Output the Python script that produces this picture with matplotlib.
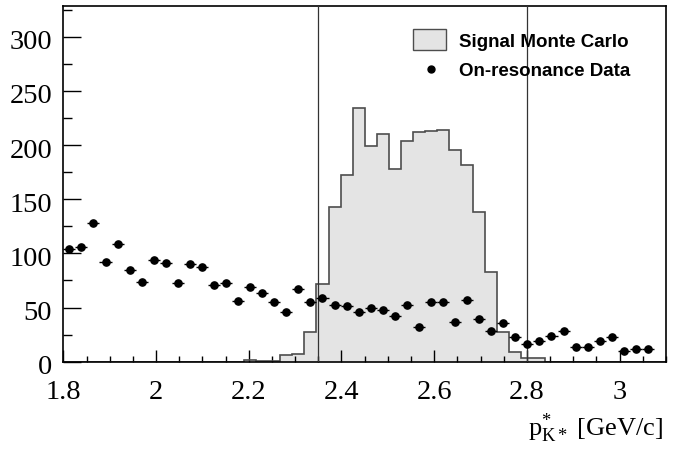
import numpy as np
import matplotlib
matplotlib.use("Agg")
import matplotlib.pyplot as plt
from matplotlib.patches import Rectangle
from matplotlib.lines import Line2D
from matplotlib.ticker import MultipleLocator
import matplotlib.transforms as mtransforms

plt.rcParams['font.family'] = ['Liberation Serif', 'DejaVu Serif']
plt.rcParams['mathtext.fontset'] = 'custom'
plt.rcParams['mathtext.rm'] = 'Liberation Serif'
plt.rcParams['mathtext.it'] = 'Liberation Serif:italic'

# Binning: 50 bins between 1.8 and 3.1 GeV/c
x_min, x_max, n_bins = 1.8, 3.1, 50
edges = np.linspace(x_min, x_max, n_bins + 1)
centers = 0.5 * (edges[:-1] + edges[1:])
half_width = 0.5 * (edges[1] - edges[0])

# Signal Monte Carlo histogram contents (per bin)
signal_mc = [0, 0, 0, 0, 0, 0, 0, 0, 0, 0,
             0, 0, 0, 0, 0, 2, 1, 1, 6, 7.5,
             27.5, 72, 142.5, 172, 234.5, 199, 210, 178, 204, 212,
             213, 214, 195, 182, 138, 83, 27.5, 9, 3.5, 3.5,
             0, 0, 0, 0, 0, 0, 0, 0, 0, 0]

# On-resonance data counts (first 49 bins)
onres_data = [104, 106, 128, 92, 109, 85, 74, 94, 91, 73,
              90, 87, 71, 73, 56, 69, 63, 55, 46, 67,
              55, 59, 52, 51, 46, 50, 48, 42, 52, 32,
              55, 55, 37, 57, 39, 28, 36, 23, 16, 19,
              24, 28, 14, 14, 19, 23, 10, 12, 12]

# Signal window boundaries
cut_low, cut_high = 2.35, 2.8

legend_labels = ['Signal Monte Carlo', 'On-resonance Data']

fill_color = '#e4e4e4'
edge_color = '#4d4d4d'

fig = plt.figure(figsize=(6.73, 4.52), dpi=100)
ax = fig.add_axes([0.0941, 0.1976, 0.8955, 0.7862])

ax.stairs(signal_mc, edges, fill=True, color=fill_color, zorder=1)
ax.stairs(signal_mc, edges, fill=False, color=edge_color, linewidth=1.2, zorder=2)

for xc in (cut_low, cut_high):
    ax.axvline(xc, color='#333333', linewidth=0.9, zorder=3)

n_data = len(onres_data)
ax.errorbar(centers[:n_data], onres_data, xerr=half_width, fmt='o',
            color='black', markersize=5.2, elinewidth=1.0, capsize=0, zorder=4)

ax.set_xlim(x_min, x_max)
ax.set_ylim(0, 328)

ax.xaxis.set_minor_locator(MultipleLocator(0.05))
ax.yaxis.set_minor_locator(MultipleLocator(25))
ax.set_xticks([1.8, 2.0, 2.2, 2.4, 2.6, 2.8, 3.0])
ax.set_xticklabels(['1.8', '2', '2.2', '2.4', '2.6', '2.8', '3'])
ax.set_yticks([0, 50, 100, 150, 200, 250, 300])
ax.set_yticklabels(['0', '50', '100', '150', '200', '250', '300'])

ax.tick_params(axis='both', which='both', direction='in', top=False, right=False,
               labelsize=20.5, width=1.0, color='black')
ax.tick_params(axis='x', which='major', length=8.4, pad=12.5)
ax.tick_params(axis='x', which='minor', length=4.5)
ax.tick_params(axis='y', which='major', length=12.7, pad=8)
ax.tick_params(axis='y', which='minor', length=6.5)

# nudge the y labels a little downward
offset = mtransforms.ScaledTranslation(0, -1.5 / 72, fig.dpi_scale_trans)
for lab in ax.get_yticklabels():
    lab.set_transform(lab.get_transform() + offset)

for sp in ax.spines.values():
    sp.set_linewidth(1.2)

fig.text(0.985, 0.035, r'$\mathrm{p}^{*}_{\mathrm{K}*}$ [GeV/c]', ha='right',
         va='baseline', fontsize=19)

# Legend entries placed in figure coordinates
fig.patches.append(Rectangle((0.6141, 0.8872), 0.0481, 0.0465,
                             transform=fig.transFigure, facecolor=fill_color,
                             edgecolor=edge_color, linewidth=1.0))
fig.lines.append(Line2D([0.6400], [0.8451], transform=fig.transFigure,
                        marker='o', color='black', linestyle='none', markersize=5))
legend_font = dict(family=['Liberation Sans', 'DejaVu Sans'], weight='bold', size=13.5)
fig.text(0.6825, 0.8954, legend_labels[0], ha='left', va='baseline', **legend_font)
fig.text(0.6825, 0.8319, legend_labels[1], ha='left', va='baseline', **legend_font)

fig.savefig('out.png', dpi=100)
